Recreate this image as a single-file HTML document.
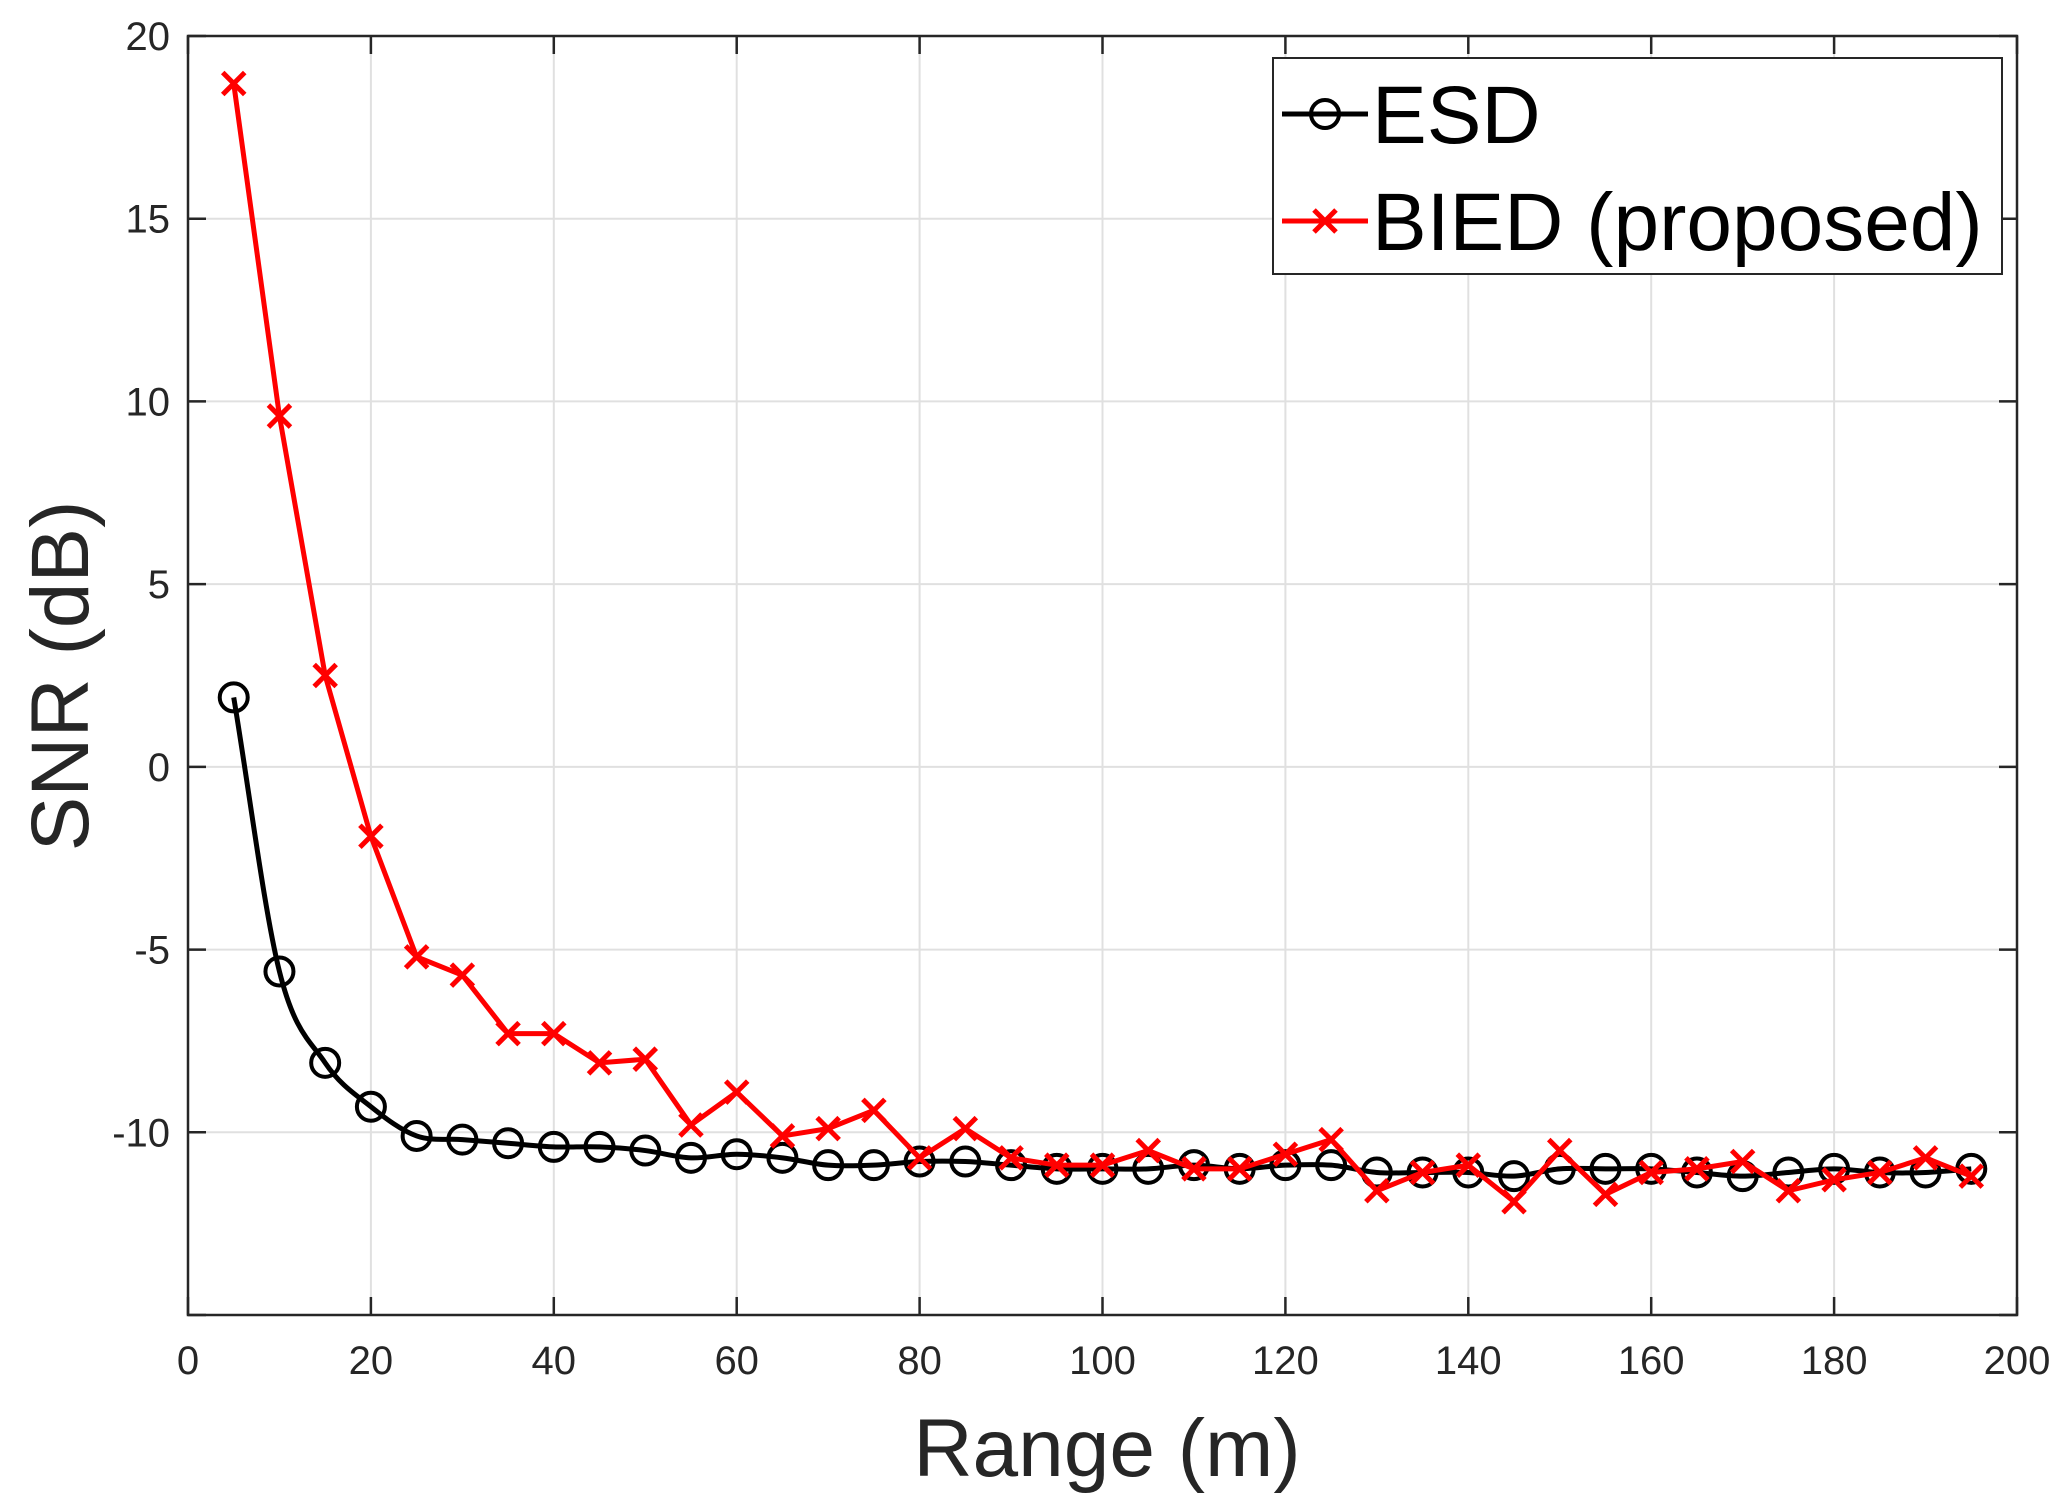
<!DOCTYPE html><html><head><style>body{margin:0;background:#fff}svg{display:block}</style></head><body>
<svg id="s" width="2071" height="1507" xmlns="http://www.w3.org/2000/svg" font-family="Liberation Sans, sans-serif"></svg>
<script>
const s=document.getElementById('s');
const L=188,T=36,R=2017,B=1315;
const X=v=>L+v/200*(R-L), Y=v=>T+(20-v)/35*(B-T);
let h='';
for(let v=20;v<200;v+=20)h+=`<line x1="${X(v)}" y1="${T}" x2="${X(v)}" y2="${B}" stroke="#e0e0e0" stroke-width="2"/>`;
for(let v=15;v>-15;v-=5)h+=`<line x1="${L}" y1="${Y(v)}" x2="${R}" y2="${Y(v)}" stroke="#e0e0e0" stroke-width="2"/>`;
h+=`<rect x="${L}" y="${T}" width="${R-L}" height="${B-T}" fill="none" stroke="#262626" stroke-width="2.5"/>`;
for(let v=0;v<=200;v+=20){h+=`<line x1="${X(v)}" y1="${B}" x2="${X(v)}" y2="${B-18}" stroke="#262626" stroke-width="2.5"/><line x1="${X(v)}" y1="${T}" x2="${X(v)}" y2="${T+18}" stroke="#262626" stroke-width="2.5"/>`;
h+=`<text x="${X(v)}" y="1374" font-size="40" fill="#262626" text-anchor="middle">${v}</text>`;}
for(let v=20;v>=-15;v-=5){h+=`<line x1="${L}" y1="${Y(v)}" x2="${L+18}" y2="${Y(v)}" stroke="#262626" stroke-width="2.5"/><line x1="${R}" y1="${Y(v)}" x2="${R-18}" y2="${Y(v)}" stroke="#262626" stroke-width="2.5"/>`;
if(v>-15)h+=`<text x="170" y="${Y(v)+14}" font-size="40" fill="#262626" text-anchor="end">${v}</text>`;}
h+=`<text x="1107" y="1476" font-size="82" fill="#262626" text-anchor="middle">Range (m)</text>`;
h+=`<text transform="translate(88,676) rotate(-90)" font-size="82" fill="#262626" text-anchor="middle">SNR (dB)</text>`;
const red=[18.7,9.6,2.5,-1.9,-5.2,-5.7,-7.3,-7.3,-8.1,-8.0,-9.8,-8.9,-10.1,-9.9,-9.4,-10.7,-9.9,-10.7,-10.9,-10.9,-10.5,-11.0,-11.0,-10.6,-10.2,-11.6,-11.1,-10.9,-11.9,-10.5,-11.7,-11.1,-11.0,-10.8,-11.6,-11.3,-11.1,-10.7,-11.2];
const blk=[1.9,-5.6,-8.1,-9.3,-10.1,-10.2,-10.3,-10.4,-10.4,-10.5,-10.7,-10.6,-10.7,-10.9,-10.9,-10.8,-10.8,-10.9,-11.0,-11.0,-11.0,-10.9,-11.0,-10.9,-10.9,-11.1,-11.1,-11.1,-11.2,-11.0,-11.0,-11.0,-11.1,-11.2,-11.1,-11.0,-11.1,-11.1,-11.0];
const pts=a=>a.map((v,i)=>X(5+5*i)+','+Y(v)).join(' ');
// smooth black path
const P=blk.map((v,i)=>[X(5+5*i),Y(v)]);
let d=`M${P[0][0]} ${P[0][1]}`;
for(let i=0;i<P.length-1;i++){const p0=P[Math.max(0,i-1)],p1=P[i],p2=P[i+1],p3=P[Math.min(P.length-1,i+2)];
let c1=[p1[0]+(p2[0]-p0[0])/6,p1[1]+(p2[1]-p0[1])/6],c2=[p2[0]-(p3[0]-p1[0])/6,p2[1]-(p3[1]-p1[1])/6];
if(i==0)c1=[p1[0]+(p2[0]-p1[0])/3,p1[1]+(p2[1]-p1[1])/3];
d+=`C${c1[0]} ${c1[1]} ${c2[0]} ${c2[1]} ${p2[0]} ${p2[1]}`;}
h+=`<path d="${d}" fill="none" stroke="#000" stroke-width="5"/>`;
blk.forEach((v,i)=>h+=`<circle cx="${X(5+5*i)}" cy="${Y(v)}" r="14" fill="none" stroke="#000" stroke-width="4"/>`);
h+=`<polyline points="${pts(red)}" fill="none" stroke="#f00" stroke-width="5"/>`;
const cross=(x,y)=>`<path d="M${x-11} ${y-11}L${x+11} ${y+11}M${x-11} ${y+11}L${x+11} ${y-11}" stroke="#f00" stroke-width="5"/>`;
red.forEach((v,i)=>h+=cross(X(5+5*i),Y(v)));
h+=`<rect x="1273" y="58" width="729" height="216" fill="#fff" stroke="#262626" stroke-width="2"/>`;
h+=`<line x1="1282" y1="114" x2="1368" y2="114" stroke="#000" stroke-width="5"/><circle cx="1325" cy="114" r="14" fill="none" stroke="#000" stroke-width="4"/>`;
h+=`<text x="1372" y="143" font-size="82" fill="#000">ESD</text>`;
h+=`<line x1="1282" y1="221" x2="1368" y2="221" stroke="#f00" stroke-width="5"/>`+cross(1325,221);
h+=`<text x="1372" y="250" font-size="82" fill="#000">BIED (proposed)</text>`;
s.innerHTML=h;
</script></body></html>
